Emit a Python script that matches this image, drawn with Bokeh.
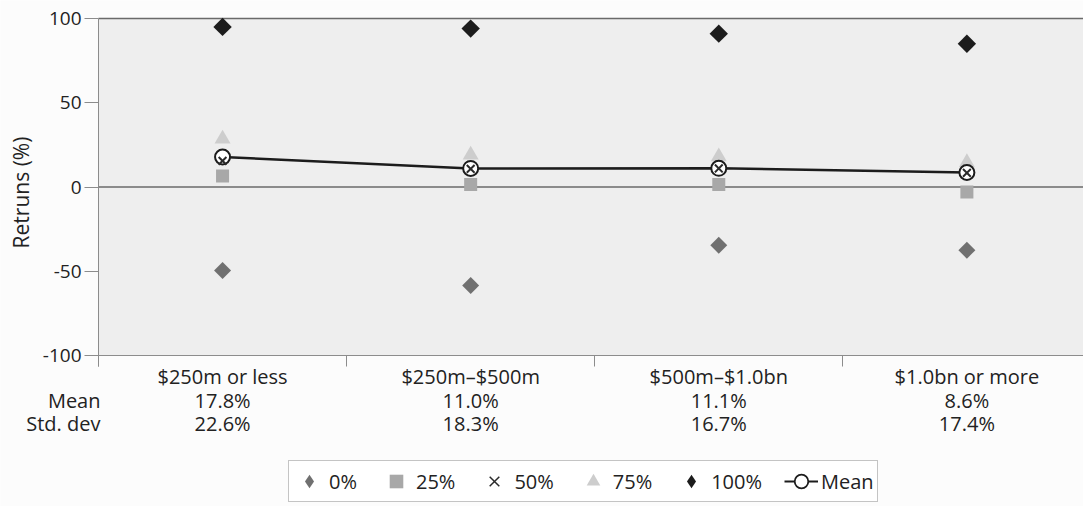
import numpy as np
from bokeh.plotting import figure
from bokeh.models import (ColumnDataSource, FixedTicker, Legend, LegendItem,
                          Range1d, LinearAxis, BoxAnnotation)
from bokeh.core.properties import value
from bokeh.embed import file_html
from bokeh.resources import INLINE

# ---- data ----
categories = ["$250m or less", "$250m–$500m", "$500m–$1.0bn", "$1.0bn or more"]
p0 = [-49.5, -58.5, -34.5, -37.5]
p25 = [6.5, 1.5, 1.5, -3.0]
p50 = [15.5, 10.8, 11.0, 8.4]
p75 = [28.5, 19.0, 18.0, 14.5]
p100 = [95.0, 94.0, 91.0, 85.0]
mean = [17.8, 11.0, 11.1, 8.6]
std_dev = [22.6, 18.3, 16.7, 17.4]
y_ticks = [-100, -50, 0, 50, 100]
row_heads = ["Mean", "Std. dev"]
legend_labels = ["0%", "25%", "50%", "75%", "100%", "Mean"]

FONT = "Open Sans"
TXT = "#222222"
AX = "#8c8c8c"
C0, C25, C50, C75, C100, CM = "#707070", "#a8a8a8", "#2a2a2a", "#cdcdcd", "#1c1c1c", "#1c1c1c"

n = len(categories)
xc = (np.arange(n) + 0.5).tolist()
ylo, yhi = min(y_ticks), max(y_ticks)
src = ColumnDataSource(dict(
    x=xc, cat=categories, p0=p0, p25=p25, p50=p50, p75=p75, p100=p100, mean=mean,
    mean_txt=[f"{m:.1f}%" for m in mean],
    std_txt=[f"{s:.1f}%" for s in std_dev],
))

# frame covers the whole canvas; value ranges chosen so the plot area sits
# where the reference has it
X_END = 3.97
p = figure(width=1083, height=506, output_backend="svg", toolbar_location=None,
           x_axis_type=None, y_axis_type=None,
           x_range=Range1d(-0.395, X_END), y_range=Range1d(-189.6, 110.68),
           min_border=0)
p.min_border_left = p.min_border_right = p.min_border_top = p.min_border_bottom = 0
p.background_fill_color = "#fcfcfc"
p.border_fill_color = "#fcfcfc"
p.outline_line_color = None
p.add_layout(BoxAnnotation(left=0, bottom=ylo, top=yhi, fill_color="#eeeeee",
                           fill_alpha=1, line_color=None, level="underlay"))

# horizontal reference lines at 0 and top
p.segment(x0=0, x1=X_END, y0=[0, yhi], y1=[0, yhi], line_color="#6a6a6a",
          line_width=1.3)

# y axis (fixed at x = 0)
ya = LinearAxis(fixed_location=0, bounds=(ylo - 6.5, yhi),
                ticker=FixedTicker(ticks=y_ticks))
ya.major_label_overrides = {t: str(t) for t in y_ticks}
ya.axis_label = "Retruns (%)"
ya.axis_label_text_font = FONT
ya.axis_label_text_font_size = "21px"
ya.axis_label_text_font_style = "normal"
ya.axis_label_text_color = TXT
ya.axis_label_standoff = 5
ya.major_label_text_font = FONT
ya.major_label_text_font_size = "19px"
ya.major_label_text_color = TXT
ya.major_label_standoff = 3
ya.major_tick_out = 14
ya.major_tick_in = 0
ya.major_tick_line_color = AX
ya.minor_tick_line_color = None
ya.axis_line_color = AX
p.add_layout(ya, "left")

# x axis (fixed at y = -100) with separator ticks between categories
xa = LinearAxis(fixed_location=ylo, bounds=(0, X_END),
                ticker=FixedTicker(ticks=list(range(n)), minor_ticks=[]))
xa.major_label_text_color = None
xa.major_tick_out = 11
xa.major_tick_in = 0
xa.major_tick_line_color = AX
xa.minor_tick_line_color = None
xa.axis_line_color = AX
p.add_layout(xa, "below")

# ---- marks ----
r75 = p.scatter("x", "p75", source=src, marker="triangle", size=16,
                fill_color=C75, line_color=None)
r25 = p.scatter("x", "p25", source=src, marker="square", size=13,
                fill_color=C25, line_color=None)
r0 = p.scatter("x", "p0", source=src, marker="square", angle=np.pi / 4, size=12,
               fill_color=C0, line_color=None)
r100 = p.scatter("x", "p100", source=src, marker="square", angle=np.pi / 4, size=13,
                 fill_color=C100, line_color=None)
rline = p.line("x", "mean", source=src, line_color=CM, line_width=2.5)
rmean = p.scatter("x", "mean", source=src, marker="circle", size=15,
                  fill_color="white", line_color=CM, line_width=2)
r50 = p.scatter("x", "p50", source=src, marker="x", size=11,
                line_color=C50, line_width=2)

# legend-only glyphs (the legend does not rotate markers); NaN = not drawn
nan_src = ColumnDataSource(dict(x=np.array([np.nan]), y=np.array([np.nan])))
l0 = p.scatter("x", "y", source=nan_src, marker="diamond", fill_color=C0, line_color=None)
l100 = p.scatter("x", "y", source=nan_src, marker="diamond", fill_color=C100, line_color=None)
l50 = p.scatter("x", "y", source=nan_src, marker="x", line_color=C50, line_width=1.5)
lm = p.scatter("x", "y", source=nan_src, marker="circle", fill_color="white",
               line_color=CM, line_width=1.8)
ll = p.line("x", "y", source=nan_src, line_color=CM, line_width=2)

# ---- category names, mean and std rows under the axis ----
tstyle = dict(text_font=value(FONT), text_font_size="20px", text_color=TXT,
              text_baseline="middle")
p.text(x="x", y=-112.5, text="cat", source=src, text_align="center", **tstyle)
p.text(x="x", y=-126.7, text="mean_txt", source=src, text_align="center", **tstyle)
p.text(x="x", y=-140.4, text="std_txt", source=src, text_align="center", **tstyle)
p.text(x=[0, 0], y=[-126.7, -140.4], text=row_heads, x_offset=2,
       text_align="right", **tstyle)

# ---- legend ----
legend = Legend(items=[
    LegendItem(label=lab, renderers=rs) for lab, rs in zip(
        legend_labels, [[l0], [r25], [l50], [r75], [l100], [ll, lm]])
], orientation="horizontal", location=(288, 4))
legend.label_text_font = FONT
legend.label_text_font_size = "20px"
legend.label_text_color = TXT
legend.glyph_width = 34
legend.glyph_height = 34
legend.label_standoff = 3
legend.spacing = 22
legend.padding = 3
legend.margin = 0
legend.border_line_color = "#8a8a8a"
legend.border_line_width = 1
legend.background_fill_color = "white"
legend.background_fill_alpha = 1
p.add_layout(legend, "center")

open("out.html", "w").write(file_html(p, INLINE))
